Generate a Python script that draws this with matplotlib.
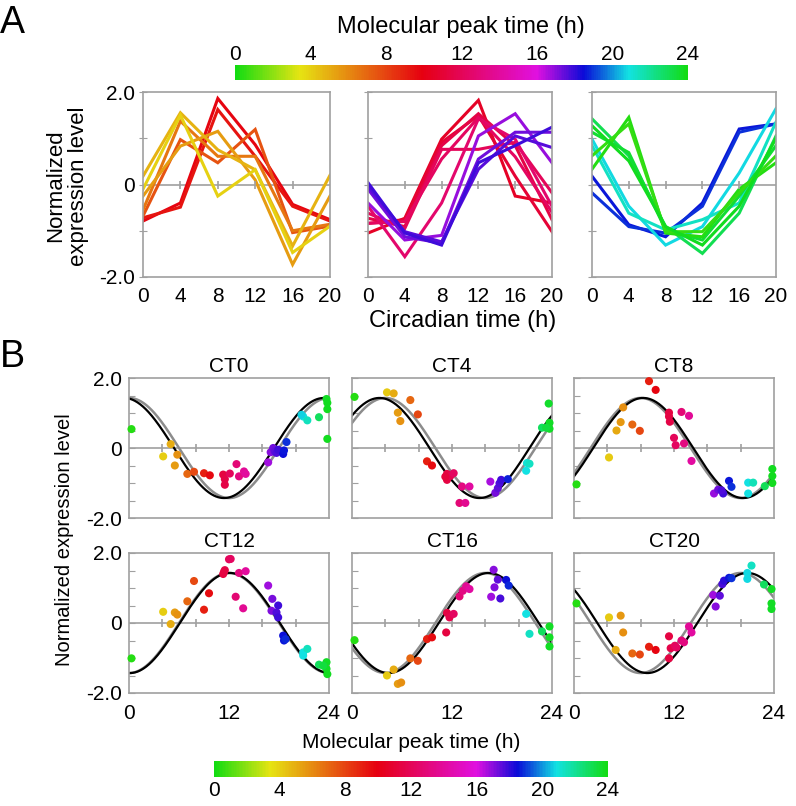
import numpy as np
import matplotlib.pyplot as plt
from matplotlib.colors import LinearSegmentedColormap, Normalize
from matplotlib.cm import ScalarMappable

plt.rcParams["font.family"] = ["Liberation Sans", "DejaVu Sans"]

# ---- panel A: expression profiles over circadian time ----
ct_a = [0, 4, 8, 12, 16, 20]

a1_peak = [9.8, 9.3, 7.5, 6.5, 5.5, 4.8, 4.0]
a1_expr = [
    [-0.79, -0.40, 1.86, 0.86, -0.43, -0.76],
    [-0.72, -0.49, 1.62, 0.61, -0.47, -0.79],
    [-0.68, 0.97, 0.47, 1.19, -1.04, -0.90],
    [-0.55, 1.37, 0.61, 0.61, -1.00, -0.86],
    [-0.25, 0.83, 1.15, 0.10, -1.73, -0.25],
    [0.18, 1.55, 0.75, 0.32, -1.33, 0.20],
    [-0.10, 1.50, -0.25, 0.32, -1.47, -0.90],
]

a2_peak = [10.5, 11.0, 11.5, 12.0, 12.6, 12.2, 16.8, 17.3, 17.6, 17.9]
a2_expr = [
    [-1.05, -0.73, 0.98, 1.82, -0.25, -0.40],
    [-0.84, -0.76, 0.91, 1.49, 0.18, -1.02],
    [-0.73, -0.91, 0.84, 1.53, 0.84, -0.76],
    [-0.62, -0.95, 0.76, 0.76, 0.91, -0.18],
    [-0.47, -1.56, -0.40, 1.42, 0.98, -0.47],
    [-0.84, -0.80, 0.55, 1.45, 0.60, -0.60],
    [-0.40, -1.20, -1.10, 1.05, 1.53, 0.47],
    [-0.10, -1.13, -1.27, 0.55, 1.13, 1.13],
    [-0.04, -1.02, -1.24, 0.33, 1.05, 0.80],
    [0.04, -1.05, -1.31, 0.47, 0.84, 1.24],
]

a3_peak = [18.6, 18.9, 20.8, 21.3, 23.0, 23.5, 0.3, 0.6, 23.8]
a3_expr = [
    [0.18, -0.87, -1.13, -0.40, 1.20, 1.31],
    [-0.18, -0.91, -1.05, -0.47, 1.13, 1.31],
    [0.98, -0.47, -1.31, -0.91, 0.25, 1.64],
    [0.84, -0.62, -0.98, -0.76, -0.40, 1.35],
    [1.42, 0.62, -0.91, -1.49, -0.62, 1.05],
    [1.13, 0.69, -0.98, -1.20, -0.25, 0.84],
    [0.33, 1.45, -1.05, -1.13, -0.10, 0.47],
    [0.62, 1.31, -1.02, -1.02, -0.18, 0.62],
    [1.27, 0.51, -0.91, -1.31, -0.47, 1.00],
]

# ---- panel B: expression at each CT versus molecular peak time ----
ct_b = [0, 4, 8, 12, 16, 20]
fit_amp = 1.43
fit_shift = [-0.6, -0.7, 0.3, 0.1, 0.4, 0.8]

ct0_peak = [0.3, 4.1, 5.0, 5.8, 5.5, 7.0, 7.8, 9.0, 9.7, 11.3, 11.5, 11.5, 12.1, 12.9,
            13.2, 13.8, 14.0, 16.7, 17.0, 17.3, 17.5, 17.7, 17.9, 18.5, 18.6, 18.9,
            20.9, 21.4, 20.7, 22.8, 23.7, 23.8, 23.8, 23.8]
ct0_expr = [0.54, -0.24, 0.11, -0.19, -0.50, -0.74, -0.68, -0.72, -0.78, -0.76, -0.89, -1.05,
            -0.73, -0.46, -0.81, -0.67, -0.74, -0.41, -0.12, 0.00, -0.10, -0.14, -0.05, -0.17,
            -0.07, 0.17, 0.90, 0.79, 0.95, 0.88, 1.40, 1.29, 1.11, 0.26]

ct4_peak = [0.3, 4.2, 5.0, 5.5, 5.8, 7.0, 7.9, 9.0, 9.6, 11.4, 11.4, 11.8, 12.2, 11.2,
            13.2, 14.1, 12.9, 13.6, 16.6, 17.2, 17.5, 17.7, 17.9, 18.7, 21.0, 21.3, 20.9,
            22.8, 23.6, 23.7, 23.7, 23.3]
ct4_expr = [1.46, 1.59, 1.56, 1.01, 0.77, 1.37, 0.96, -0.38, -0.50, -0.74, -0.91, -0.80,
            -0.72, -0.82, -1.10, -1.10, -1.57, -1.57, -0.96, -1.28, -1.15, -1.01, -0.91,
            -0.89, -0.43, -0.45, -0.65, 0.58, 1.27, 0.72, 0.55, 0.58]

ct8_peak = [0.3, 4.2, 5.1, 5.6, 5.9, 7.0, 7.9, 9.0, 9.8, 11.4, 11.4, 11.5, 12.0, 12.2,
            12.9, 13.8, 13.2, 14.1, 16.8, 17.3, 17.9, 17.7, 18.6, 18.9, 20.9, 21.5, 20.9,
            22.9, 23.8, 23.8, 23.8]
ct8_expr = [-1.04, -0.27, 0.50, 0.74, 1.16, 0.67, 0.49, 1.91, 1.66, 1.01, 0.90, 0.75,
            0.29, 0.08, 1.03, 0.92, 0.13, -0.37, -1.30, -1.19, -1.30, -1.21, -0.94, -1.11,
            -0.99, -0.99, -1.30, -1.09, -0.60, -0.80, -1.00]

ct12_peak = [0.3, 4.1, 5.0, 5.5, 5.8, 7.0, 7.8, 9.0, 9.6, 11.3, 11.5, 11.4, 12.0, 12.2,
             13.2, 14.0, 12.8, 13.7, 16.7, 17.2, 17.1, 17.9, 17.7, 17.9, 18.5, 18.6, 18.8,
             20.9, 21.4, 20.9, 22.8, 23.7, 23.7, 23.8, 23.3]
ct12_expr = [-1.01, 0.32, -0.03, 0.30, 0.24, 0.62, 1.20, 0.38, 0.85, 1.40, 1.51, 1.46,
             1.82, 1.83, 1.43, 1.48, 0.75, 0.42, 1.07, 0.69, 0.35, 0.50, 0.30, 0.16,
             -0.36, -0.50, -0.46, -0.84, -0.74, -0.93, -1.19, -1.12, -1.31, -1.46, -1.22]

ct16_peak = [0.3, 4.2, 5.0, 5.5, 5.9, 7.0, 7.9, 9.0, 9.6, 11.3, 11.4, 11.7, 12.2,
             12.9, 13.3, 13.7, 14.1, 17.0, 16.7, 17.1, 17.5, 17.8, 18.5, 18.8, 20.9, 21.3,
             22.8, 23.7, 23.7, 23.7]
ct16_expr = [-0.49, -1.50, -1.33, -1.74, -1.70, -1.01, -1.08, -0.46, -0.41, -0.27, 0.29,
             0.16, 0.26, 0.76, 0.92, 1.05, 0.97, 1.52, 0.75, 1.02, 1.24, 0.70, 1.23, 1.07,
             0.26, -0.31, -0.24, -0.10, -0.41, -0.67]

ct20_peak = [0.3, 4.2, 5.6, 5.9, 5.0, 7.0, 7.9, 9.0, 9.8, 11.4, 11.4, 11.6, 12.1, 12.3,
             12.9, 13.2, 13.8, 14.1, 16.7, 17.0, 17.5, 17.8, 18.0, 18.6, 18.9, 20.8, 21.3,
             20.8, 22.8, 23.7, 23.7, 23.7]
ct20_expr = [0.56, 0.16, 0.21, -0.27, -0.77, -0.87, -0.90, -0.68, -0.77, -0.38, -1.01,
             -0.72, -0.65, -0.70, -0.50, -0.55, -0.10, -0.27, 0.80, 0.47, 0.78, 1.11, 1.21,
             1.29, 1.28, 1.43, 1.64, 1.26, 1.10, 0.97, 0.56, 0.40]

# ---- colour scale for molecular peak time ----
cmap = LinearSegmentedColormap.from_list("peak", [
    (0.0, "#12dc12"), (3.4 / 24, "#e6e412"), (9.9 / 24, "#e60010"),
    (16.0 / 24, "#e010e0"), (18.5 / 24, "#0a0ad8"), (20.9 / 24, "#12e2e2"),
    (1.0, "#12dc12")])
norm = Normalize(0, 24)

GRAY = "#a0a0a0"
W, H = 796.0, 806.0

fig = plt.figure(figsize=(W / 100, H / 100), dpi=100)


def box(x0, y0, x1, y1):
    return fig.add_axes([x0 / W, 1 - y1 / H, (x1 - x0) / W, (y1 - y0) / H])


def frame(ax):
    for s in ax.spines.values():
        s.set_color(GRAY)
        s.set_linewidth(1.2)
    ax.axhline(0, color=GRAY, lw=1.2, zorder=0)


# panel A
a_sets = [(a1_peak, a1_expr), (a2_peak, a2_expr), (a3_peak, a3_expr)]
a_boxes = [(143, 92, 330, 277), (368, 92, 552, 277), (592, 92, 776, 277)]
for i, (peaks, exprs) in enumerate(a_sets):
    ax = box(*a_boxes[i])
    frame(ax)
    for p, e in zip(peaks, exprs):
        ax.plot(ct_a, e, color=cmap(norm(p)), lw=2.2, solid_joinstyle="miter")
    ax.plot(ct_a[1:-1], [0] * 4, "|", color=GRAY, ms=6, mew=1.2)
    ax.set_xlim(0, 20)
    ax.set_ylim(-2, 2)
    ax.set_xticks(ct_a)
    ax.tick_params(axis="x", length=0, pad=7, labelsize=15)
    ax.set_yticks([-2, -1, 0, 1, 2])
    ax.set_yticklabels(["-2.0", "", "0", "", "2.0"] if i == 0 else [])
    ax.tick_params(axis="y", direction="inout", length=6, color=GRAY,
                   labelsize=15, pad=3)

# panel B
b_sets = [(ct0_peak, ct0_expr), (ct4_peak, ct4_expr), (ct8_peak, ct8_expr),
          (ct12_peak, ct12_expr), (ct16_peak, ct16_expr), (ct20_peak, ct20_expr)]
b_cols = [(129, 329), (352, 552), (574, 774)]
b_rows = [(378, 518), (553, 693)]
t = np.linspace(0, 24, 300)
for k, (peaks, exprs) in enumerate(b_sets):
    r, c = divmod(k, 3)
    ax = box(b_cols[c][0], b_rows[r][0], b_cols[c][1], b_rows[r][1])
    frame(ax)
    ct = ct_b[k]
    ax.plot(t, fit_amp * np.cos(2 * np.pi * (t - ct) / 24), color="#8c8c8c", lw=1.8)
    ax.plot(t, fit_amp * np.cos(2 * np.pi * (t - ct - fit_shift[k]) / 24),
            color="black", lw=1.6)
    ax.scatter(peaks, exprs, c=peaks, cmap=cmap, norm=norm, s=34, linewidths=0,
               zorder=3, clip_on=False)
    ax.plot([4, 8, 12, 16, 20], [0] * 5, "|", color=GRAY, ms=6, mew=1.2)
    ax.set_xlim(0, 24)
    ax.set_ylim(-2, 2)
    ax.set_xticks([0, 12, 24])
    ax.set_xticklabels(["0", "12", "24"] if r == 1 else [])
    ax.tick_params(axis="x", length=0, pad=8, labelsize=15)
    ax.set_yticks(np.arange(-2, 2.01, 0.5))
    ax.set_yticklabels(["-2.0", "", "", "", "0", "", "", "", "2.0"] if c == 0 else [])
    ax.tick_params(axis="y", direction="in", length=4, color=GRAY, labelsize=15, pad=5)
    ax.set_title(f"CT{ct}", fontsize=15, pad=4)

# colour bars
sm = ScalarMappable(norm=norm, cmap=cmap)
cax = box(235, 65, 688, 80)
cb = fig.colorbar(sm, cax=cax, orientation="horizontal", ticks=range(0, 25, 4))
cb.outline.set_visible(False)
cax.xaxis.set_ticks_position("top")
cax.tick_params(length=0, labelsize=15, pad=1)

cax2 = box(214, 761, 608, 777)
cb2 = fig.colorbar(sm, cax=cax2, orientation="horizontal", ticks=range(0, 25, 4))
cb2.outline.set_visible(False)
cax2.tick_params(length=0, labelsize=15, pad=3)

# labels
fig.text(12 / W, 1 - 23 / H, "A", fontsize=27, ha="center", va="center")
fig.text(12 / W, 1 - 357 / H, "B", fontsize=27, ha="center", va="center")
fig.text(461 / W, 1 - 27 / H, "Molecular peak time (h)", fontsize=17, ha="center", va="center")
fig.text(463 / W, 1 - 321 / H, "Circadian time (h)", fontsize=17, ha="center", va="center")
fig.text(67 / W, 1 - 186 / H, "Normalized\nexpression level", fontsize=16,
         ha="center", va="center", rotation=90, linespacing=1.15)
fig.text(65 / W, 1 - 540 / H, "Normalized expression level", fontsize=14.5,
         ha="center", va="center", rotation=90)
fig.text(411 / W, 1 - 742 / H, "Molecular peak time (h)", fontsize=15, ha="center", va="center")

fig.savefig("out.png", dpi=100)
